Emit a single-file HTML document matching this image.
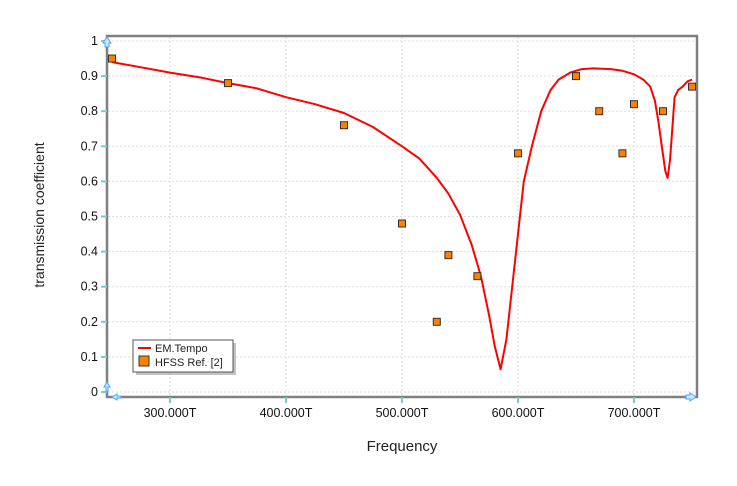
<!DOCTYPE html>
<html><head><meta charset="utf-8"><style>
body{margin:0;background:#fff;}
svg text{font-family:"Liberation Sans",sans-serif;}
</style></head><body>
<svg width="737" height="481" viewBox="0 0 737 481">
<rect width="737" height="481" fill="#fff"/>
<g id="grid"></g>
<rect x="107" y="36" width="590" height="361" fill="none" stroke="#808080" stroke-width="2.5"/>
<g id="ticks"></g>
<path id="curve" fill="none" stroke="#ff0000" stroke-width="2" stroke-linejoin="round"/>
<g id="pts"></g>
<text x="44" y="215" font-size="14" text-anchor="middle" transform="rotate(-90 44 215)" fill="#222">transmission coefficient</text>
<text x="402" y="451" font-size="15" text-anchor="middle" fill="#222">Frequency</text>
<g>
<rect x="136" y="343" width="100" height="32" fill="#888" opacity="0.5"/>
<rect x="133" y="340" width="100" height="32" fill="#fff" stroke="#555"/>
<line x1="138" y1="348" x2="151" y2="348" stroke="#f00" stroke-width="2"/>
<text x="155" y="352" font-size="11" fill="#222">EM.Tempo</text>
<rect x="139" y="356" width="10" height="10" fill="#ff8000" stroke="#333"/>
<text x="155" y="366" font-size="11" fill="#222">HFSS Ref. [2]</text>
</g>
<path d="M107 37 l-4 6 h2 v4 h4 v-4 h2 z" fill="#cfe8ff" stroke="#4aa3ff"/>
<path d="M696 397 l-6 -4 v2 h-4 v4 h4 v2 z" fill="#cfe8ff" stroke="#4aa3ff"/>
<path d="M107 382 l-3 5 h2 v4 h2 v-4 h2 z M112 397 l5 -3 v2 h4 v2 h-4 v2 z" fill="#cfe8ff" stroke="#4aa3ff"/>
</svg>
<script>
const xTicks=[300,400,500,600,700];
const xTickLabels=["300.000T","400.000T","500.000T","600.000T","700.000T"];
const yTicks=[0,0.1,0.2,0.3,0.4,0.5,0.6,0.7,0.8,0.9,1];
const yTickLabels=["0","0.1","0.2","0.3","0.4","0.5","0.6","0.7","0.8","0.9","1"];
const curveFreq=[250,275,300,325,350,375,400,425,450,475,500,515,530,540,550,560,568,575,580,585,590,595,600,605,612,620,628,635,645,655,665,680,690,700,708,714,718,721,724,727,729,731,733,735,738,742,746,750];
const curveVal=[0.94,0.925,0.91,0.897,0.88,0.865,0.84,0.82,0.795,0.755,0.70,0.665,0.61,0.565,0.505,0.42,0.33,0.22,0.13,0.065,0.15,0.3,0.45,0.6,0.7,0.8,0.86,0.89,0.91,0.92,0.922,0.92,0.915,0.905,0.89,0.87,0.83,0.77,0.70,0.63,0.61,0.66,0.75,0.84,0.86,0.87,0.885,0.89];
const hfssFreq=[250,350,450,500,530,540,565,600,650,670,690,700,725,750];
const hfssVal=[0.95,0.88,0.76,0.48,0.2,0.39,0.33,0.68,0.9,0.8,0.68,0.82,0.80,0.87];
const X=f=>170+(f-300)*1.16;
const Y=v=>392-351*v;
const NS="http://www.w3.org/2000/svg";
const grid=document.getElementById('grid'),ticks=document.getElementById('ticks'),pts=document.getElementById('pts');
function mk(tag,a,p){const e=document.createElementNS(NS,tag);for(const k in a)e.setAttribute(k,a[k]);p.appendChild(e);return e;}
xTicks.forEach((f,i)=>{
 const g=mk('line',{x1:X(f),x2:X(f),y1:37,y2:396,stroke:'#ddd','stroke-dasharray':'2,2'},grid);
 
 
 mk('line',{x1:X(f),x2:X(f),y1:397,y2:403,stroke:'#7cc','stroke-width':2},ticks);
 const t=mk('text',{x:X(f),y:417,'font-size':12.5,'text-anchor':'middle',fill:'#111'},ticks);
 t.textContent=xTickLabels[i];
 
 
});
yTicks.forEach((v,i)=>{
 const g=mk('line',{x1:108,x2:696,y1:Y(v),y2:Y(v),stroke:'#ddd','stroke-dasharray':'2,2'},grid);
 
 
 mk('line',{x1:101,x2:107,y1:Y(v),y2:Y(v),stroke:'#7cc','stroke-width':2},ticks);
 const t=mk('text',{x:98,y:Y(v)+4,'font-size':12.5,'text-anchor':'end',fill:'#111'},ticks);
 t.textContent=yTickLabels[i];
 
 
});
document.getElementById('curve').setAttribute('d',curveFreq.map((f,i)=>(i?'L':'M')+X(f).toFixed(1)+' '+Y(curveVal[i]).toFixed(1)).join(' '));
hfssFreq.forEach((f,i)=>{
 const r=mk('rect',{x:X(f)-3.5,y:Y(hfssVal[i])-3.5,width:7,height:7,fill:'#ff8000',stroke:'#333','stroke-width':1},pts);
 
 
});
</script>
</body></html>
